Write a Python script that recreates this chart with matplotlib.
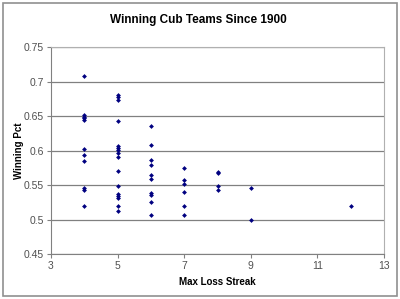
import matplotlib
matplotlib.use("Agg")
import matplotlib.pyplot as plt
from matplotlib.patches import Rectangle

plt.rcParams['font.family'] = ['Liberation Sans', 'DejaVu Sans']

# max loss streak vs winning pct, winning Cub seasons since 1900
streak = [4, 4, 4, 4, 4, 4, 4, 4, 4, 4, 4,
          5, 5, 5, 5, 5, 5, 5, 5, 5, 5, 5, 5, 5, 5, 5, 5,
          6, 6, 6, 6, 6, 6, 6, 6, 6, 6,
          7, 7, 7, 7, 7, 7,
          8, 8, 8, 8,
          9, 9,
          12]
win_pct = [0.708, 0.651, 0.649, 0.647, 0.644, 0.602, 0.593, 0.585, 0.545, 0.543, 0.520,
           0.680, 0.677, 0.673, 0.643, 0.606, 0.604, 0.601, 0.597, 0.590, 0.570,
           0.549, 0.537, 0.534, 0.531, 0.520, 0.513,
           0.636, 0.608, 0.586, 0.579, 0.565, 0.559, 0.539, 0.536, 0.526, 0.506,
           0.574, 0.557, 0.551, 0.540, 0.519, 0.506,
           0.569, 0.567, 0.549, 0.543,
           0.545, 0.500,
           0.519]

fig = plt.figure(figsize=(4.0, 2.99), dpi=100)
ax = fig.add_axes([0.1275, 0.1505, 0.8325, 0.6923])

ax.scatter(streak, win_pct, marker="D", s=6, color="#000080", zorder=3, linewidths=0)

ax.set_xlim(3, 13)
ax.set_ylim(0.45, 0.75)
ax.set_xticks([3, 5, 7, 9, 11, 13])
ax.set_yticks([0.45, 0.5, 0.55, 0.6, 0.65, 0.7, 0.75])
ax.set_yticklabels(["0.45", "0.5", "0.55", "0.6", "0.65", "0.7", "0.75"])
ax.grid(axis="y", color="#808080", linewidth=0.9)
ax.set_axisbelow(True)

for side in ["left", "bottom"]:
    ax.spines[side].set_color("#808080")
for side in ["right", "top"]:
    ax.spines[side].set_color("#b0b0b0")
ax.tick_params(direction="out", length=3, color="#808080", labelsize=7.5, labelcolor="#505050", pad=2)

fig.text(0.495, 0.933, "Winning Cub Teams Since 1900", fontsize=8.5, fontweight="bold",
         ha="center", va="center")
ax.set_xlabel("Max Loss Streak", fontsize=7, fontweight="bold", labelpad=4)
ax.set_ylabel("Winning Pct", fontsize=7, fontweight="bold")
ax.yaxis.set_label_coords(-0.097, 0.5)
ax.yaxis.label.set_va("center")

fig.patches.append(Rectangle((0.008, 0.01), 0.984, 0.98, transform=fig.transFigure,
                             fill=False, edgecolor="#909090", linewidth=1.2))

plt.savefig("out.png", dpi=100)
plt.close()
